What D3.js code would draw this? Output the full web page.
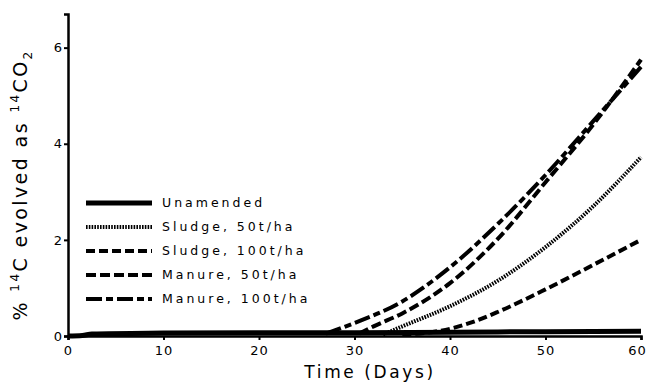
<!DOCTYPE html>
<html>
<head>
<meta charset="utf-8">
<script src="https://cdn.jsdelivr.net/npm/d3@7"></script>
<style>
  body { margin: 0; background: #fff; }
  svg text { font-family: "DejaVu Sans", sans-serif; fill: #000; }
</style>
</head>
<body>
<div class="chart"></div>
<script>
// days (x) and % 14C evolved (y)
const unamendedDays = [0, 1.5, 2.5, 10, 20, 30, 40, 50, 60];
const unamended = [0, 0.01, 0.04, 0.06, 0.07, 0.07, 0.08, 0.09, 0.1];

const sludge50Days = [33, 35, 40, 45, 50, 55, 60];
const sludge50 = [0.03, 0.2, 0.62, 1.15, 1.85, 2.7, 3.72];

const sludge100Days = [35, 40, 42.5, 45, 50, 55, 60];
const sludge100 = [0.03, 0.15, 0.3, 0.5, 0.97, 1.48, 2.0];

const manure50Days = [30.5, 32, 35, 40, 45, 50, 55, 60];
const manure50 = [0.05, 0.2, 0.47, 1.1, 2.02, 3.2, 4.4, 5.75];

const manure100Days = [27, 30, 35, 40, 45, 50, 55, 60];
const manure100 = [0.05, 0.27, 0.72, 1.43, 2.33, 3.35, 4.47, 5.6];

const seriesNames = ['Unamended', 'Sludge, 50t/ha', 'Sludge, 100t/ha', 'Manure, 50t/ha', 'Manure, 100t/ha'];
const xTicks = [0, 10, 20, 30, 40, 50, 60];
const yTicks = [0, 2, 4, 6];

const width = 648, height = 384;
const margin = { left: 68, right: 7, top: 14, bottom: 48 };

const series = [
  { name: seriesNames[0], days: unamendedDays, vals: unamended, dash: null, w: 5 },
  { name: seriesNames[1], days: sludge50Days, vals: sludge50, dash: '1.6,1.2', w: 4 },
  { name: seriesNames[2], days: sludge100Days, vals: sludge100, dash: '9,4', w: 4 },
  { name: seriesNames[3], days: manure50Days, vals: manure50, dash: '10,4', w: 4 },
  { name: seriesNames[4], days: manure100Days, vals: manure100, dash: '16,4,7,4', w: 4 }
];

const x = d3.scaleLinear().domain([0, 60]).range([margin.left, width - margin.right]);
const y = d3.scaleLinear().domain([0, 6.7]).range([height - margin.bottom, margin.top]);

const svg = d3.select('.chart')
  .append('svg')
  .attr('width', width)
  .attr('height', height);

// axes
const xAxis = d3.axisBottom(x).tickValues(xTicks).tickSize(4).tickFormat(d3.format('d'));
const yAxis = d3.axisLeft(y).tickValues(yTicks).tickSize(4).tickFormat(d3.format('d'));

const xg = svg.append('g')
  .attr('transform', `translate(0, ${y(0)})`)
  .call(xAxis);
xg.select('.domain').attr('stroke-width', 2.5);
xg.selectAll('.tick line').attr('stroke-width', 2);
xg.selectAll('text')
  .attr('font-size', 13)
  .attr('dy', '0.95em')
  .attr('letter-spacing', 1)
  .attr('dx', d => d === 60 ? -4 : 0);   // keep last label inside the frame

const yg = svg.append('g')
  .attr('transform', `translate(${x(0)}, 0)`)
  .call(yAxis);
yg.select('.domain').attr('stroke-width', 2.5);
yg.selectAll('.tick line').attr('stroke-width', 2);
yg.selectAll('text').attr('font-size', 13).attr('x', -6);

// axis titles
svg.append('text')
  .attr('x', 370)
  .attr('y', 378)
  .attr('text-anchor', 'middle')
  .attr('font-size', 17)
  .attr('letter-spacing', 2.6)
  .text('Time (Days)');

const yTitle = svg.append('text')
  .attr('transform', `translate(27, ${(y(0) + y(6.7)) / 2 + 10}) rotate(-90)`)
  .attr('text-anchor', 'middle')
  .attr('font-size', 19)
  .attr('letter-spacing', 2.4);
yTitle.append('tspan').text('% ');
yTitle.append('tspan').attr('font-size', 12).attr('dy', -8).text('14');
yTitle.append('tspan').attr('dy', 8).text('C evolved as ');
yTitle.append('tspan').attr('font-size', 12).attr('dy', -8).text('14');
yTitle.append('tspan').attr('dy', 8).text('CO');
yTitle.append('tspan').attr('font-size', 12).attr('dy', 5).text('2');

// curves
const line = d3.line()
  .x(d => x(d[0]))
  .y(d => y(d[1]))
  .curve(d3.curveMonotoneX);

svg.append('g')
  .selectAll('path')
  .data(series)
  .join('path')
  .attr('d', s => line(s.days.map((d, i) => [d, s.vals[i]])))
  .attr('fill', 'none')
  .attr('stroke', '#000')
  .attr('stroke-width', s => s.w)
  .attr('stroke-dasharray', s => s.dash);

// legend
const legend = svg.append('g')
  .selectAll('g')
  .data(series)
  .join('g')
  .attr('transform', (d, i) => `translate(86, ${203 + i * 24})`);

legend.append('line')
  .attr('x1', 0)
  .attr('x2', 66)
  .attr('stroke', '#000')
  .attr('stroke-width', s => s.w)
  .attr('stroke-dasharray', s => s.dash);

legend.append('text')
  .attr('x', 76)
  .attr('dy', '0.35em')
  .attr('font-size', 12.5)
  .attr('letter-spacing', 3)
  .text(s => s.name);
</script>
</body>
</html>
